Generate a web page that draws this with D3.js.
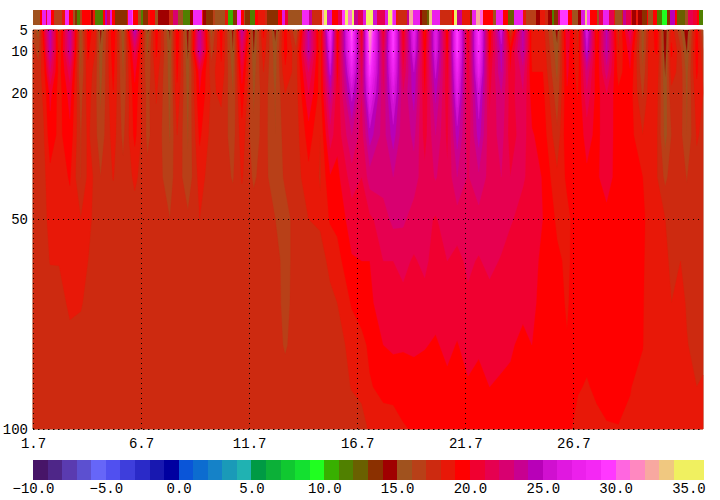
<!DOCTYPE html>
<html>
<head>
<meta charset="utf-8">
<script src="https://cdn.jsdelivr.net/npm/d3@7"></script>
<style>
html,body{margin:0;padding:0;background:#fff}
svg{display:block}
</style>
</head>
<body>
<svg id="c" width="720" height="500"></svg>
<script>
const depths = [5,10,15,20,30,40,50,60,70,80,90,100];
const depthTicks = [5,10,20,50,100];
const dayTickHours = [0,120,240,360,480,600];
const dayTickLabels = ["1.7","6.7","11.7","16.7","21.7","26.7"];
const legendTicks = [-10,-5,0,5,10,15,20,25,30,35];
const legendLabels = ["\u221210.0","\u22125.0","0.0","5.0","10.0","15.0","20.0","25.0","30.0","35.0"];
const levels = [-10,-9,-8,-7,-6,-5,-4,-3,-2,-1,0,1,2,3,4,5,6,7,8,9,10,11,12,13,14,15,16,17,18,19,20,21,22,23,24,25,26,27,28,29,30,31,32,33,34,35];
const levelColors = ["#471568","#4e2688","#5a3bb0","#5c50d0","#6666f8","#5050f0","#3e3edc","#2a2ac8","#1818b0","#0000a0","#0a55d8","#0c6cd0","#1582c8","#1a9ab8","#20b2b2","#009a44","#0cb038","#10c830","#14e030","#20ff20","#38b000","#508000","#6a6000","#8b3000","#a00000","#a0521e","#b84018","#cd2a10","#e81808","#ff0000","#f00030","#e60050","#d80070","#c80090","#b800b8","#d010d0","#e018e0","#ec20ec","#f428f4","#ff38ff","#ff66e0","#ff88c0","#f8a8a0","#f0c880","#f0f060","#f0f060"];

const columnHours = [0,6,12,19,29,41,53,61,69,75,89,100,113,127,137,152,160,172,185,198,209,222,232,245,256,269,280,292,306,319,330,338,354,365,374,389,400,411,423,435,447,460,471,483,495,507,520,530,544,554,566,582,593,605,615,626,637,650,663,677,685,693,702,709,719,726,737,744];
const temperatureColumns = [
[16.5,17.5,17.5,17.5,17.5,17.5,17.5,17.5,17.5,17.5,17.5,17.5],
[15.5,16.5,17.5,17.5,17.5,17.5,17.5,17.5,17.5,17.5,17.5,17.5],
[20,19,18.5,18.2,17.9,17.7,17.6,17.5,17.5,17.5,17.5,17.5],
[24.5,24,22,20.3,19.6,18.7,18.4,18.05,17.5,17.5,17.5,17.5],
[17.5,18,18.5,18.5,18.7,18.5,18.3,18.05,17.6,17.5,17.5,17.5],
[24,23.5,21.5,20.5,19.7,19.1,18.6,18.4,18.2,17.7,17.5,17.5],
[15.5,15.5,15.9,16.5,16.9,16.95,18,18.3,18.1,17.6,17.5,17.5],
[19.5,19.2,18.7,18.5,18.2,18.2,18.1,18,17.7,17.5,17.5,17.5],
[18.5,18,17.5,17.3,17.3,17.9,17.9,17.5,17.5,17.5,17.5,17.5],
[14.5,15.2,15.5,15.8,16.3,17,17.5,17.5,17.5,17.5,17.5,17.5],
[20,19.6,19.3,18.95,18.5,18.05,17.5,17.5,17.5,17.5,17.5,17.5],
[15,15.5,15.9,16.2,16.7,17.3,17.5,17.5,17.5,17.5,17.5,17.5],
[24.5,21.5,20.3,19.7,19.3,18.2,17.6,17.5,17.5,17.5,17.5,17.5],
[14.8,15.8,16.2,16.6,16.7,17.3,17.5,17.5,17.5,17.5,17.5,17.5],
[19.5,19.2,18.5,18.1,17.7,17.5,17.5,17.5,17.5,17.5,17.5,17.5],
[14.7,15.3,15.5,15.7,15.9,16.4,17,17.4,17.5,17.5,17.5,17.5],
[20,19.6,19.2,18.8,18,17.7,17.5,17.5,17.5,17.5,17.5,17.5],
[14.3,14.8,15.3,15.6,15.9,16.2,17.2,17.5,17.5,17.5,17.5,17.5],
[24,24,20.5,20,19.2,18.4,18,17.5,17.5,17.5,17.5,17.5],
[15.5,16.5,17.5,17.8,17.6,17.5,17.5,17.5,17.5,17.5,17.5,17.5],
[19.5,19.2,18.8,18.2,17.6,17.5,17.5,17.5,17.5,17.5,17.5,17.5],
[14.5,15,15.6,16,16.5,16.9,17.5,17.5,17.5,17.5,17.5,17.5],
[24,22,20.5,19.6,18.6,18.1,17.5,17.5,17.5,17.5,17.5,17.5],
[14.3,14.9,15.5,15.8,16.2,16.8,17.5,17.5,17.5,17.5,17.5,17.5],
[19.3,18.5,18,17.6,17.5,17.5,17.5,17.5,17.5,17.5,17.5,17.5],
[14.5,15.4,15.6,15.9,16,16.2,17,17.5,17.5,17.5,17.5,17.5],
[19.5,19.4,18.8,18,17.5,17.2,16.5,16.5,16.6,16.85,17.5,17.5],
[15.7,17.2,17.5,17.5,17.5,17.5,17.5,17.5,17.5,17.5,17.5,17.5],
[24.2,24,22,21,19.5,18.7,18,17.5,17.5,17.5,17.5,17.5],
[17.8,18,18.3,18.5,18,17.9,18.2,17.5,17.5,17.5,17.5,17.5],
[29,27,25.3,23.5,21.5,19.9,19.1,18.3,17.7,17.5,17.5,17.5],
[18.7,19.3,19.6,20.1,20.3,19.7,19.3,18.6,18,17.5,17.5,17.5],
[30.5,29.5,27.5,25.5,23,21.5,20.5,19.9,19.1,18.4,18.05,17.5],
[19.5,20.5,21.5,22,21.5,21,20.2,20,19.5,18.7,18.2,17.7],
[32.5,31,29.5,27.5,24.5,22.5,20.8,20,19.8,19.2,18.9,18.1],
[20,21,21.5,22,22.5,22.5,21.5,21,20.5,20,19.3,18.5],
[30,29.5,28,26.5,24.5,23,22.3,21,20.5,20.2,19.3,18.6],
[19.5,20,21,22,22.2,22.3,22.2,21.2,20.8,20.1,19.5,18.9],
[27.5,26.5,25,24.5,23.3,22.5,21.5,20.9,20.5,20.2,19.5,19.1],
[18.5,19.2,19.5,19.9,20.5,21.3,21.3,21.2,20.7,20.05,19.6,19.3],
[27,26.5,25.3,24.3,23,22.1,20.9,20.6,20.3,19.9,19.6,19.3],
[19,19.5,19.9,20.2,20.7,21.2,21.5,21,20.5,20.2,19.8,19.5],
[30,29.5,28,26.8,24.5,23,21.5,20.7,20.4,19.95,19.6,19.3],
[19.5,20,20.4,20.8,21.3,21.9,21.8,21.2,20.8,20.3,19.9,19.5],
[29.5,28.8,27.5,25.8,24.5,22.8,21.6,20.9,20.4,20.1,19.8,19.4],
[19,19.5,20.3,20.8,21.2,21.6,21.6,21.3,20.6,20.4,20,19.5],
[26,24.5,24,23,22.5,22,21.5,20.9,20.5,20.2,19.9,19.5],
[16.5,19.5,20,20.5,20.5,21,21.1,20.6,20.3,20.1,19.85,19.4],
[24.3,24,22.5,21.9,21.5,21.1,20.7,20.5,20.2,19.8,19.6,19.3],
[18.5,18.5,19,19.5,20.1,20.7,20.5,20.3,20.2,20,19.6,19.4],
[18.5,18.7,19,19.3,19.6,19.9,20,19.8,19.7,19.6,19.5,19.3],
[14.5,15.3,15.7,16.3,17.2,18.2,18.8,19.2,19.3,19.4,19.5,19.3],
[21,20.5,20.2,19.9,19.8,19.2,18.7,18.8,18.9,19.05,19.6,19.3],
[17.5,18,18.5,18.9,19.3,19.5,19.6,19.5,19.5,19.5,19.1,18.6],
[26.5,25.2,22.8,21.8,20.4,19.8,19.5,19.4,19.4,19.3,18.9,18.4],
[18.5,18.9,19.2,19.5,19.7,19.9,19.5,19.4,19.4,19.4,19.2,18.7],
[24.3,24,22.5,21,20.6,20.3,19.8,19.5,19.4,19.5,19.4,18.9],
[17.5,18,18.5,19.2,19.5,19.7,19.6,19.5,19.5,19.5,19.4,18.95],
[22,20.5,19.9,19.5,19.4,19.4,19.5,19.5,19.5,19.4,19.05,18.8],
[15.3,15.5,16.2,16.8,18,19,19.3,19.2,19.1,19.05,18.6,18.4],
[18.5,18.8,18.6,18.6,18.5,18.4,18.4,18.3,18.3,18.2,18.2,18.2],
[19.4,19.1,18.5,18.2,18,18,18,18,18.1,18.1,18.2,18.2],
[13.7,14.2,14.9,15.3,15.6,16.7,18,18.2,18.3,18.3,18.2,18.2],
[18.7,19.2,18.5,17.7,17,17.5,17.5,17.8,18,18.3,18.3,18.2],
[16,17.2,17.5,17.5,17.3,17.4,17.5,18,18.3,18.4,18.3,18.3],
[14.2,14.9,15.6,15.8,16,16.95,17.3,17.7,17.9,18.05,18.2,18.4],
[19.5,19.6,19.2,18.6,18.1,17.7,17.5,17.5,17.6,17.7,18,18.5],
[15.5,17,17.8,18,17.8,17.5,17.5,17.5,17.5,17.5,18.2,18.5]
];

const stripStartHours = [0,8,10,14,16,20,23,32,36,40,44,47,49,52,54,63,64,67,69,78,80,82,85,88,91,104,105,110,111,117,120,122,128,130,135,139,151,155,161,167,174,178,188,189,192,200,202,213,216,222,226,231,234,235,241,246,250,258,260,272,276,280,283,299,306,310,319,321,323,327,332,339,343,346,350,354,356,361,366,370,377,382,391,394,399,400,403,405,415,418,422,430,432,437,440,443,452,465,467,471,476,485,487,492,496,500,511,514,522,527,534,544,548,559,563,568,572,576,579,583,585,594,599,605,609,613,615,619,626,628,633,640,645,646,654,655,659,664,665,670,672,676,682,683,688,693,698,704,707,713,715,724,727,733,737,740];
const stripValues = [15.5,19.5,27.5,20.5,28.5,19.5,16.5,18.5,28.5,19.5,15.5,13.5,11.5,16.5,19.5,18.5,14.5,18.5,11.5,19.5,24.5,21.5,26.5,19.5,13.5,18.5,27.5,29.5,19.5,15.5,11.5,13.5,18.5,19.5,15.5,14.5,17.5,22.5,15.5,11.5,14.5,28.5,18.5,14.5,13.5,16.5,15.5,18.5,10.5,13.5,29.5,19.5,15.5,13.5,11.5,19.5,18.5,17.5,13.5,19.5,26.5,20.5,15.5,28.5,23.5,17.5,18.5,31.5,35,25.5,19.5,21.5,29.5,35,30.5,35,23.5,21.5,26.5,35,25.5,21.5,26.5,35,30.5,27.5,18.5,17.5,23.5,32.5,27.5,14.5,13.5,12.5,33.5,27.5,17.5,19.5,35,23.5,18.5,13.5,27.5,32.5,30.5,19.5,15.5,27.5,19.5,12.5,27.5,18.5,16.5,14.5,18.5,17.5,14.5,11.5,13.5,22.5,29.5,19.5,15.5,14.5,26.5,33.5,29.5,19.5,15.5,21.5,27.5,21.5,18.5,15.5,17.5,23.5,21.5,18.5,14.5,18.5,14.5,13.5,19.5,15.5,19.5,11.5,9.5,13.5,24.5,19.5,12.5,15.5,21.5,20.5,19.5,11.5];

const svg = d3.select("#c");
const x = d3.scaleLinear().domain([0,744]).range([33,703]);
const y = d3.scaleLinear().domain([5,100]).range([30,429]);
const legendX = d3.scaleLinear().domain([-10,36]).range([33,703]);
const color = d3.scaleThreshold().domain(levels.slice(1)).range(levelColors);

/* top strip */
const stripEnd = stripStartHours.slice(1).concat(744);
svg.append("g").selectAll("rect").data(stripValues).join("rect")
  .attr("x",(d,i)=>x(stripStartHours[i]))
  .attr("width",(d,i)=>x(stripEnd[i])-x(stripStartHours[i]))
  .attr("y",10).attr("height",15)
  .attr("fill",d=>color(d)).attr("shape-rendering","crispEdges");

/* contoured field on an irregular grid */
const n = columnHours.length, m = depths.length;
const grid = [];
for (let j=0;j<m;j++) for (let i=0;i<n;i++) grid.push(temperatureColumns[i][j]);
const iToHour = d3.scaleLinear().domain(columnHours.map((d,i)=>i+0.5)).range(columnHours).clamp(true);
const jToDepth = d3.scaleLinear().domain(depths.map((d,j)=>j+0.5)).range(depths).clamp(true);
const proj = d3.geoTransform({point(px,py){ this.stream.point(x(iToHour(px)), y(jToDepth(py))); }});
const path = d3.geoPath(proj);
const minV = d3.min(grid);
const thresholds = levels.filter(l=>l>=Math.floor(minV));
const contours = d3.contours().size([n,m]).thresholds(thresholds)(grid);
svg.append("rect").attr("x",x(0)).attr("y",y(5)).attr("width",x(744)-x(0)).attr("height",y(100)-y(5)).attr("fill",color(17.5));
svg.append("g").selectAll("path").data(contours).join("path")
  .attr("d",path).attr("fill",d=>color(d.value+0.5)).attr("stroke",d=>color(d.value+0.5)).attr("stroke-width",0.3);

/* dotted grid through axes */
function dotted(g){
  g.selectAll(".domain").remove();
  g.selectAll("line").attr("stroke","#000").attr("stroke-dasharray","1,4").attr("shape-rendering","crispEdges");
}
svg.append("g").attr("transform","translate(33,0)")
  .call(d3.axisLeft(y).tickValues(depthTicks).tickSize(-670).tickPadding(5).tickFormat(d=>String(d)))
  .call(dotted);
svg.append("g").attr("transform","translate(0,429)")
  .call(d3.axisBottom(x).tickValues(dayTickHours).tickSize(-399).tickPadding(9).tickFormat((d,i)=>dayTickLabels[i]))
  .call(dotted);
svg.append("g").attr("transform","translate(0,429)")
  .call(d3.axisBottom(x).tickValues([]).tickSize(0)).selectAll(".domain")
  .attr("stroke","#000").attr("stroke-dasharray","1,4");

/* colour key */
svg.append("g").selectAll("rect").data(levels).join("rect")
  .attr("x",d=>legendX(d)).attr("width",d=>legendX(d+1)-legendX(d)+0.5)
  .attr("y",460).attr("height",20)
  .attr("fill",(d,i)=>levelColors[i]).attr("shape-rendering","crispEdges");
svg.append("g").attr("transform","translate(0,480)")
  .call(d3.axisBottom(legendX).tickValues(legendTicks).tickSize(0).tickPadding(3).tickFormat((d,i)=>legendLabels[i]))
  .call(g=>g.select(".domain").remove());
svg.selectAll("text").style("font-family",'"Liberation Mono",monospace').style("font-size","14px").attr("fill","#000");
</script>
</body>
</html>
